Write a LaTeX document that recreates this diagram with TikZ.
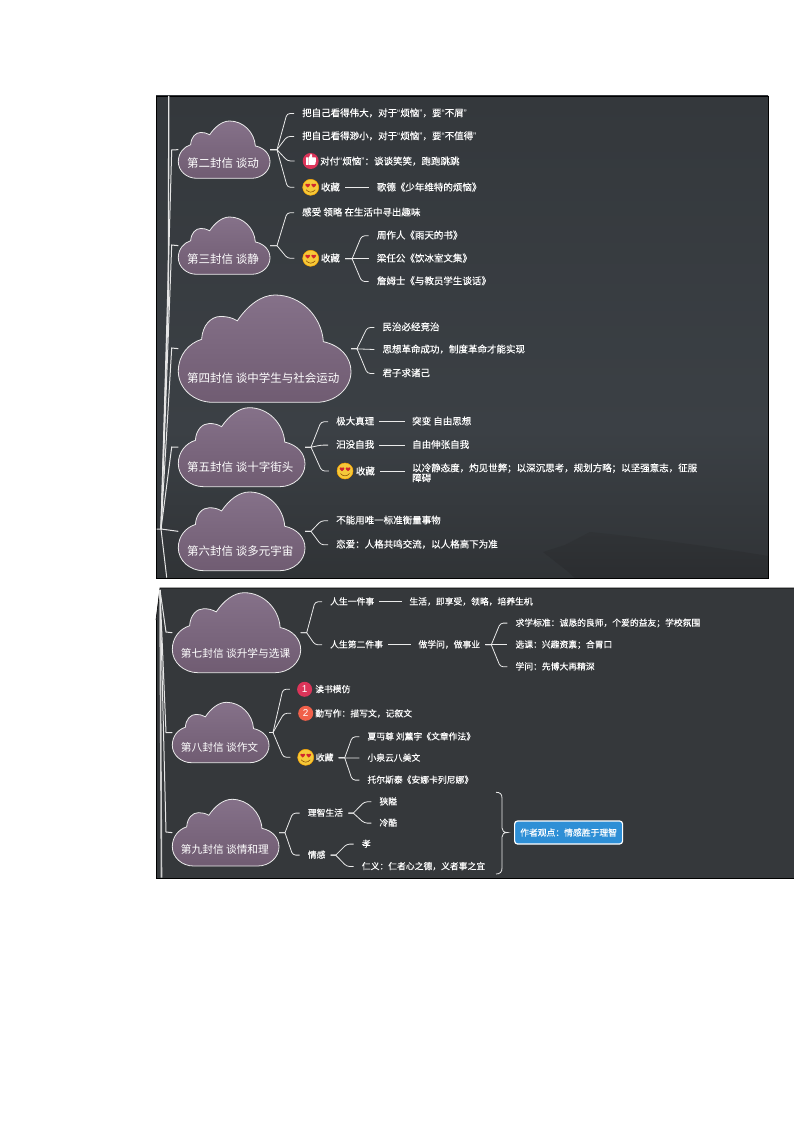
\documentclass[tikz,border=0pt]{standalone}
\usepackage{fontspec}
\setmainfont{Noto Sans CJK SC}
\newfontfamily\latfont{Liberation Sans}
\newfontfamily\heavyfont[FakeBold=0.3]{Noto Sans CJK SC}
\usetikzlibrary{calc}
\definecolor{panelA}{HTML}{34383C}
\definecolor{panelB}{HTML}{3B4045}
\definecolor{panelC}{HTML}{303336}
\definecolor{panelD}{HTML}{35383B}
\definecolor{panelE}{HTML}{2B2D30}
\definecolor{cloudA}{HTML}{857189}
\definecolor{cloudB}{HTML}{705C72}
\definecolor{heartred}{HTML}{D0262E}
\definecolor{crimson}{HTML}{DC3459}
\definecolor{salmon}{HTML}{F0604A}
\definecolor{smileface}{HTML}{F5C93A}
\definecolor{sumblue}{HTML}{2E8FD6}
\newcommand{\qm}[1]{{\latfont #1}}
\tikzset{
  conn/.style={draw=white!92!black,line width=0.8pt},
  trunk/.style={draw=white!90!black,line width=1pt},
  fork/.style={shorten >=8pt,to path={-- ++(#1,0) [rounded corners=3pt] -- ($(\tikztotarget)+(-15,0)$) -- (\tikztotarget)}},
  tfork/.style={shorten <=5pt,fork=#1},
  link/.style={shorten <=5pt,shorten >=8pt},
  leaf/.style={anchor=west,inner sep=0pt,yshift=-0.8pt,text=white,font=\fontsize{9.5}{10}\selectfont\heavyfont,text height=7.6pt,text depth=1.8pt},
  leafb/.style={leaf,font=\fontsize{8.8}{10}\selectfont\heavyfont},
  leaftwo/.style={anchor=west,inner sep=0pt,yshift=-0.8pt,text=white,font=\fontsize{9.5}{10}\selectfont\heavyfont,align=left},
  cloudbox/.style={inner sep=0pt,outer sep=0pt,draw=none},
  smile/.style={circle,inner sep=0pt,minimum size=16pt,fill=smileface,draw=orange!70!yellow,line width=0.5pt},
  badge/.style={circle,inner sep=0pt,minimum size=15pt,text=white,font=\fontsize{10}{10}\selectfont\latfont},
}
\newcommand{\cloudnode}[8]{%
  \pgfmathsetmacro{\cw}{#4-#2}\pgfmathsetmacro{\ch}{#5-#3}%
  \pgfmathsetmacro{\cx}{(#2+#4)/2}\pgfmathsetmacro{\cy}{(#3+#5)/2}%
  \node[cloudbox,minimum width=\cw pt,minimum height=\ch pt] (#1) at (\cx,\cy) {};
  \begin{scope}[shift={(#2,#3)},x=\cw pt,y=-\ch pt]
    \draw[draw=white!92!black,line width=0.8pt,top color=cloudA,bottom color=cloudB]
      (.20,1) .. controls (.09,1) and (0,.87) .. (0,.71)
      .. controls (0,.56) and (.06,.45) .. (.135,.413)
      .. controls (.14,.28) and (.19,.2) .. (.245,.2)
      .. controls (.28,.2) and (.31,.21) .. (.342,.24)
      .. controls (.40,.10) and (.48,0) .. (.56,0)
      .. controls (.71,0) and (.83,.2) .. (.84,.435)
      .. controls (.94,.47) and (1,.58) .. (1,.714)
      .. controls (1,.87) and (.91,1) .. (.80,1) -- cycle;
  \end{scope}
  \node[anchor=west,inner sep=0pt,yshift=-1.2pt,text=white,font=\fontsize{#8}{13}\selectfont,text height=8.8pt,text depth=2.2pt] (#1t) at (#6,#7) {\csname cloudlabel#1\endcsname};
}
\newcommand{\smiley}[3]{%
  \node[smile] (#1) at (#2,#3) {};
  \begin{scope}[shift={(#2,#3)}]
    \fill[heartred] (-3,.2) .. controls (-6.6,-2) and (-5.8,-4.6) .. (-3,-3.2) .. controls (-.2,-4.6) and (.4,-2) .. (-3,.2);
    \fill[heartred] (3,.2) .. controls (-.4,-2) and (.2,-4.6) .. (3,-3.2) .. controls (5.8,-4.6) and (6.6,-2) .. (3,.2);
    \draw[orange!50!black,line width=0.5pt] (-4.5,2.5) .. controls (-2,5.6) and (2,5.6) .. (4.5,2.5);
  \end{scope}
}
\expandafter\def\csname cloudlabelcb\endcsname{第二封信 谈动}
\expandafter\def\csname cloudlabelcc\endcsname{第三封信 谈静}
\expandafter\def\csname cloudlabelcd\endcsname{第四封信 谈中学生与社会运动}
\expandafter\def\csname cloudlabelce\endcsname{第五封信 谈十字街头}
\expandafter\def\csname cloudlabelcf\endcsname{第六封信 谈多元宇宙}
\expandafter\def\csname cloudlabelcg\endcsname{第七封信 谈升学与选课}
\expandafter\def\csname cloudlabelch\endcsname{第八封信 谈作文}
\expandafter\def\csname cloudlabelci\endcsname{第九封信 谈情和理}
\begin{document}
\begin{tikzpicture}[x=1pt,y=-1pt]
\useasboundingbox (0,0) rectangle (794,1123);
\fill[white] (0,0) rectangle (794,1123);
% panels
\shade[top color=panelA,bottom color=panelB] (156,96) rectangle (768,430);
\shade[top color=panelB,bottom color=panelC] (156,430) rectangle (768,578);
\shade[top color=panelC,bottom color=panelE] (590,532) .. controls (650,538) and (720,548) .. (768,556) -- (768,578) -- (575,578) -- (566,570) -- (543,552) -- (565,545) -- cycle;
\draw[black,line width=0.8pt] (156,96) rectangle (768,578);
\fill[panelD] (160,588) -- (794,588) -- (794,878) -- (156,878) -- (156,620) -- cycle;
\draw[black,line width=0.6pt] (156,620) -- (160,588) -- (794,588);
\draw[black,line width=0.6pt] (156,620) -- (156,878) -- (794,878);

% clouds
\cloudnode{cb}{178.3}{121}{270}{178.3}{187}{163}{11.5}
\cloudnode{cc}{178.3}{217}{270}{274.3}{187}{259}{11.5}
\cloudnode{cd}{178.3}{295}{351}{402.3}{187}{378}{11.5}
\cloudnode{ce}{178.3}{407.7}{305}{486.7}{187}{467}{11.5}
\cloudnode{cf}{178.3}{492}{305}{570.7}{187}{551}{11.5}
\cloudnode{cg}{172.3}{592.7}{300.7}{672.7}{180.7}{652.7}{10.7}
\cloudnode{ch}{172.3}{702.3}{269}{762.7}{180.7}{747.3}{10.7}
\cloudnode{ci}{172.3}{799.3}{279}{866}{180.7}{849.3}{10.7}

% trunk, top panel
\coordinate (rootA) at (161,529);
\coordinate (topA) at (168.8,96);
\coordinate (midA) at (168.3,300);
\coordinate (endA) at (166.7,577.5);
\coordinate (leftA) at (156.5,529);
\coordinate (eb) at (171.7,150);
\coordinate (ec) at (171.7,245);
\coordinate (ed) at (171.7,348);
\coordinate (ee) at (171.7,447);
\draw[trunk,line width=1.3pt] (rootA) -- (midA) -- (topA);
\draw[trunk] (rootA) -- (eb) -- (cb.west);
\draw[trunk] (rootA) -- (ec) -- (cc.west);
\draw[trunk] (rootA) -- (ed) -- (cd.west);
\draw[trunk] (rootA) -- (ee) -- (ce.west);
\draw[trunk] (leftA) -- (rootA) -- (cf.west);
\draw[trunk] (rootA) -- (endA);

% trunk, bottom panel
\coordinate (rootB) at (160,590);
\coordinate (eg) at (166,632);
\coordinate (eh) at (166,732.5);
\coordinate (ei) at (166,832);
\coordinate (endB) at (161.5,877.5);
\draw[trunk,line width=1.6pt,draw=white!80!black] (rootB) -- (endB);
\draw[trunk] (rootB) -- (eg) -- (cg.west);
\draw[trunk] (rootB) -- (eh) -- (ch.west);
\draw[trunk] (rootB) -- (ei) -- (ci.west);

% letter 2
\node[leaf] (b1) at (302,112.7) {把自己看得伟大，对于\qm{“}烦恼\qm{”}，要\qm{“}不屑\qm{”}};
\node[leaf] (b2) at (302,135.7) {把自己看得渺小，对于\qm{“}烦恼\qm{”}，要\qm{“}不值得\qm{”}};
\node[badge,fill=crimson,minimum size=16pt] (b3i) at (310.7,161) {};
\fill[white] (306,157.5) rectangle (308,165) (308.6,158) -- (310.8,153.8) .. controls (312.4,153.8) and (312.6,155.5) .. (312,157.5) -- (315.6,157.5) .. controls (316.4,158) and (316,164) .. (314.6,165) -- (308.6,165) -- cycle;
\node[leaf] (b3) at (320,161) {对付\qm{“}烦恼\qm{”}：谈谈笑笑，跑跑跳跳};
\smiley{b4i}{310.7}{187.3}
\node[leaf] (b4) at (320.7,187) {收藏};
\node[leaf] (b5) at (376.7,187) {歌德《少年维特的烦恼》};
\draw[conn,fork=7] (cb.east) to (b1.west);
\draw[conn,fork=7] (cb.east) to (b2.west);
\draw[conn,fork=7] (cb.east) to (b3i.west);
\draw[conn,fork=7] (cb.east) to (b4i.west);
\draw[conn,link] (b4.east) -- (b5.west);

% letter 3
\node[leaf] (c1) at (302,212) {感受 领略 在生活中寻出趣味};
\smiley{c2i}{310.7}{258.3}
\node[leaf] (c2) at (320.7,258) {收藏};
\node[leaf] (c3) at (376.7,235) {周作人《雨天的书》};
\node[leaf] (c4) at (376.7,258) {梁任公《饮冰室文集》};
\node[leaf] (c5) at (376.7,280.7) {詹姆士《与教员学生谈话》};
\draw[conn,fork=7] (cc.east) to (c1.west);
\draw[conn,fork=7] (cc.east) to (c2i.west);
\draw[conn,tfork=12] (c2.east) to (c3.west);
\draw[conn,link] (c2.east) -- (c4.west);
\draw[conn,tfork=12] (c2.east) to (c5.west);

% letter 4
\node[leaf] (d1) at (382.3,326.7) {民治必经竞治};
\node[leaf] (d2) at (382.3,349) {思想革命成功，制度革命才能实现};
\node[leaf] (d3) at (382.3,372.7) {君子求诸己};
\draw[conn,fork=6] (cd.east) to (d1.west);
\draw[conn,shorten >=8pt] (cd.east) -- (d2.west);
\draw[conn,fork=6] (cd.east) to (d3.west);

% letter 5
\node[leaf] (e1) at (336,421) {极大真理};
\node[leaf] (e2) at (336,444.3) {汩没自我};
\smiley{e3i}{345}{471}
\node[leaf] (e3) at (355.7,471) {收藏};
\node[leaf] (e4) at (412,421) {突变 自由思想};
\node[leaf] (e5) at (412,444.3) {自由伸张自我};
\node[leaftwo] (e6) at (412,472) {以冷静态度，灼见世弊；以深沉思考，规划方略；以坚强意志，征服\\障碍};
\draw[conn,fork=6] (ce.east) to (e1.west);
\draw[conn,fork=6] (ce.east) to (e2.west);
\draw[conn,fork=6] (ce.east) to (e3i.west);
\draw[conn,shorten <=5pt,shorten >=7pt] (e1.east) -- (e4.west);
\draw[conn,shorten <=5pt,shorten >=7pt] (e2.east) -- (e5.west);
\draw[conn,shorten <=5pt,shorten >=7pt] (e3.east) -- (e3.east -| e6.west);

% letter 6
\node[leaf] (f1) at (336,520) {不能用唯一标准衡量事物};
\node[leaf] (f2) at (336,544) {恋爱：人格共鸣交流，以人格高下为准};
\draw[conn,fork=6] (cf.east) to (f1.west);
\draw[conn,fork=6] (cf.east) to (f2.west);

% letter 7
\node[leafb] (g1) at (330,601) {人生一件事};
\node[leafb] (g2) at (330,644) {人生第二件事};
\node[leafb] (g3) at (409.3,601) {生活，即享受，领略，培养生机};
\node[leafb] (g4) at (418.3,644) {做学问，做事业};
\node[leafb] (g5) at (515.3,622.3) {求学标准：诚恳的良师，个爱的益友；学校氛围};
\node[leafb] (g6) at (515.3,644) {选课：兴趣资禀；合胃口};
\node[leafb] (g7) at (515.3,666) {学问：先博大再精深};
\draw[conn,fork=6] (cg.east) to (g1.west);
\draw[conn,fork=6] (cg.east) to (g2.west);
\draw[conn,shorten <=5pt,shorten >=7pt] (g1.east) -- (g3.west);
\draw[conn,shorten <=5pt,shorten >=7pt] (g2.east) -- (g4.west);
\draw[conn,tfork=11] (g4.east) to (g5.west);
\draw[conn,link] (g4.east) -- (g6.west);
\draw[conn,tfork=11] (g4.east) to (g7.west);

% letter 8
\node[badge,fill=crimson] (h1i) at (304.6,689.3) {1};
\node[leafb] (h1) at (315,688.7) {读书模仿};
\node[badge,fill=salmon] (h2i) at (305.7,713.3) {2};
\node[leafb] (h2) at (315,713) {勤写作：描写文，记叙文};
\smiley{h3i}{305.7}{757.3}
\node[leafb] (h3) at (315.7,757) {收藏};
\node[leafb] (h4) at (367.3,736) {夏丏尊 刘薰宇《文章作法》};
\node[leafb] (h5) at (367.3,757.3) {小泉云八美文};
\node[leafb] (h6) at (367.3,779.3) {托尔斯泰《安娜卡列尼娜》};
\draw[conn,fork=4] (ch.east) to ($(h1i.west)+(1,0)$);
\draw[conn,fork=4] (ch.east) to ($(h2i.west)+(1,0)$);
\draw[conn,fork=4] (ch.east) to ($(h3i.west)+(1,0)$);
\draw[conn,tfork=11] (h3.east) to (h4.west);
\draw[conn,link] (h3.east) -- (h5.west);
\draw[conn,tfork=11] (h3.east) to (h6.west);

% letter 9
\node[leafb] (i1) at (307.7,812.3) {理智生活};
\node[leafb] (i2) at (307.7,854.3) {情感};
\node[leafb] (i3) at (379.3,801) {狭隘};
\node[leafb] (i4) at (379.3,822.3) {冷酷};
\node[leafb] (i5) at (361.7,843.3) {孝};
\node[leafb] (i6) at (361.7,865.7) {仁义：仁者心之德，义者事之宜};
\draw[conn,fork=6] (ci.east) to (i1.west);
\draw[conn,fork=6] (ci.east) to (i2.west);
\draw[conn,tfork=10] (i1.east) to (i3.west);
\draw[conn,tfork=10] (i1.east) to (i4.west);
\draw[conn,tfork=10] (i2.east) to (i5.west);
\draw[conn,tfork=10] (i2.east) to (i6.west);

% summary
\node[anchor=west,rounded corners=3pt,fill=sumblue,draw=white,line width=1.2pt,minimum width=108pt,minimum height=23pt,inner sep=0pt,text=white,font=\fontsize{8.8}{10}\selectfont\heavyfont] (sum) at (514,832.5) {作者观点：情感胜于理智};
\coordinate (bt) at (496,792.3);
\coordinate (bb) at (496,874);
\draw[conn] (bt) .. controls (500,792.3) and (502,794) .. (502,798) -- (502,828) .. controls (502,831) and (504,832.5) .. (507.3,832.5) .. controls (504,832.5) and (502,834) .. (502,837) -- (502,868) .. controls (502,872) and (500,874) .. (bb);
\end{tikzpicture}
\end{document}
